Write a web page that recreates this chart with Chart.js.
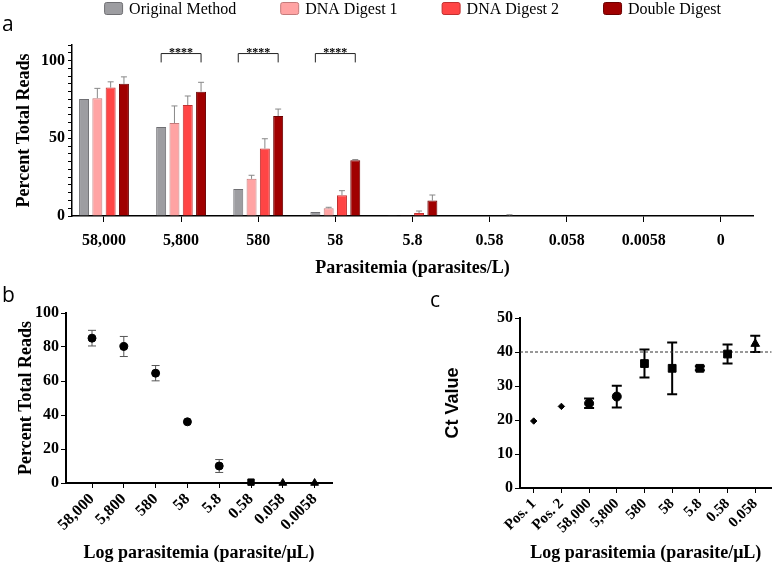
<!DOCTYPE html>
<html>
<head>
<meta charset="utf-8">
<script src="https://cdn.jsdelivr.net/npm/chart.js@4.4.1/dist/chart.umd.min.js"></script>
<style>
    body { margin: 0; background: #fff; width: 778px; height: 571px; position: relative; overflow: hidden; }
    canvas { position: absolute; }
    .panel-letter { position: absolute; font: 21px 'Open Sans', sans-serif; line-height: 21px; color: #000; }
</style>
</head>
<body>
<canvas id="readsBarChart" width="778" height="286" style="left:0;top:0"></canvas>
<canvas id="readsScatterChart" width="380" height="286" style="left:0;top:285px"></canvas>
<canvas id="ctChart" width="398" height="286" style="left:380px;top:285px"></canvas>
<div class="panel-letter" style="left:2px;top:13px">a</div>
<div class="panel-letter" style="left:2px;top:284px">b</div>
<div class="panel-letter" style="left:430px;top:289px">c</div>
<script>
// Panel a - percent total reads per method
const dilutions = ['58,000', '5,800', '580', '58', '5.8', '0.58', '0.058', '0.0058', '0'];
const originalMethod = [75.3, 57.3, 17.4, 2.5, 0.1, 0, 0, 0, 0];
const originalMethodSd = [0, 0, 0, 0, 0, 0, 0, 0, 0];
const digest1 = [75.8, 59.8, 23.9, 5.0, 0.2, 0, 0, 0, 0];
const digest1Sd = [6.3, 11.0, 2.3, 0.6, 0, 0, 0, 0, 0];
const digest2 = [82.6, 71.4, 43.4, 13.4, 1.9, 0, 0, 0, 0];
const digest2Sd = [3.7, 5.8, 6.3, 2.9, 1.3, 0, 0, 0, 0];
const doubleDigest = [85.0, 80.0, 64.3, 35.9, 9.9, 0.4, 0, 0, 0];
const doubleDigestSd = [4.5, 6.0, 4.5, 0.4, 3.6, 0.4, 0, 0, 0];
const sigGroups = [1, 2, 3];
const sigLabel = '****';

// Panel b - double digest only
const dilutionsB = ['58,000', '5,800', '580', '58', '5.8', '0.58', '0.058', '0.0058'];
const readsMean = [85.2, 80.3, 64.6, 36.0, 10.0, 0.5, 0, 0];
const readsSd = [4.6, 5.9, 4.5, 0, 3.8, 0, 0, 0];

// Panel c - qPCR Ct values
const ctSamples = ['Pos. 1', 'Pos. 2', '58,000', '5,800', '580', '58', '5.8', '0.58', '0.058'];
const ctMean = [19.7, 24.0, 24.9, 26.9, 36.6, 35.2, 35.2, 39.4, 42.4];
const ctSd = [0, 0, 1.4, 3.2, 4.1, 7.6, 0.6, 2.8, 2.4];
const ctCutoff = 40;

Chart.defaults.font.family = '"Liberation Serif", "Times New Roman", serif';
Chart.defaults.color = '#000';
Chart.defaults.animation = false;

const toPoints = arr => arr.map((v, i) => ({ x: i, y: v }));

// linear x axis that behaves like a category axis (lets us pin the ends)
function indexAxis(labels, min, max, opts) {
    return {
        type: 'linear',
        min: min,
        max: max,
        offset: false,
        afterBuildTicks: scale => { scale.ticks = labels.map((_, i) => ({ value: i })); },
        afterFit: scale => { scale.height = opts.height; },
        grid: { display: true, offset: false, drawOnChartArea: false, color: '#000', tickLength: opts.tickLength || 5 },
        border: { display: true, color: '#000', width: opts.borderWidth || 1.5 },
        ticks: {
            autoSkip: false,
            minRotation: opts.rotation || 0,
            maxRotation: opts.rotation || 0,
            padding: opts.padding || 3,
            font: { size: opts.fontSize || 16, weight: 'bold' },
            callback: v => labels[v]
        },
        title: {
            display: true,
            text: opts.title,
            font: { size: 18, weight: 'bold' },
            padding: { top: 4, bottom: 4 }
        }
    };
}

// error bars drawn from the y scale
const errorBars = {
    id: 'errorBars',
    draw(chart, opts) {
        const { ctx } = chart;
        const yScale = chart.scales.y;
        chart.data.datasets.forEach((ds, di) => {
            if (!ds.errors) return;
            const meta = chart.getDatasetMeta(di);
            ctx.save();
            ctx.strokeStyle = opts.color;
            ctx.lineWidth = opts.width;
            meta.data.forEach((el, i) => {
                const sd = ds.errors[i];
                if (!sd) return;
                const v = ds.data[i].y;
                const top = yScale.getPixelForValue(v + sd);
                const bottom = yScale.getPixelForValue(opts.upperOnly ? v : v - sd);
                ctx.beginPath();
                ctx.moveTo(el.x, bottom);
                ctx.lineTo(el.x, top);
                ctx.moveTo(el.x - opts.cap, top);
                ctx.lineTo(el.x + opts.cap, top);
                if (!opts.upperOnly) {
                    ctx.moveTo(el.x - opts.cap, bottom);
                    ctx.lineTo(el.x + opts.cap, bottom);
                }
                ctx.stroke();
            });
            ctx.restore();
        });
    },
    beforeDatasetsDraw(chart, args, opts) { if (opts.behind) this.draw(chart, opts); },
    afterDatasetsDraw(chart, args, opts) { if (!opts.behind) this.draw(chart, opts); }
};

// legend above panel a
const topLegend = {
    id: 'topLegend',
    afterDraw(chart) {
        const { ctx, chartArea } = chart;
        ctx.save();
        ctx.font = '16px "Liberation Serif"';
        const items = chart.data.datasets.map(ds => ({
            text: ds.label,
            fill: ds.backgroundColor,
            stroke: ds.borderColor,
            w: ctx.measureText(ds.label).width
        }));
        const box = 18, gap = 7, spacing = 44;
        const total = items.reduce((s, it) => s + box + gap + it.w, 0) + spacing * (items.length - 1);
        let x = (chartArea.left + chartArea.right) / 2 - total / 2;
        items.forEach(it => {
            ctx.fillStyle = it.fill;
            ctx.strokeStyle = it.stroke;
            ctx.lineWidth = 1;
            ctx.beginPath();
            ctx.roundRect(x + 0.5, 2.5, box, 12, 2);
            ctx.fill();
            ctx.stroke();
            ctx.fillStyle = '#000';
            ctx.fillText(it.text, x + box + gap, 14);
            x += box + gap + it.w + spacing;
        });
        ctx.restore();
    }
};

// significance brackets
const sigBrackets = {
    id: 'sigBrackets',
    afterDatasetsDraw(chart) {
        const { ctx, scales: { y } } = chart;
        const first = chart.getDatasetMeta(0);
        const last = chart.getDatasetMeta(chart.data.datasets.length - 1);
        const top = y.getPixelForValue(104.5);
        const leg = y.getPixelForValue(98.8);
        ctx.save();
        ctx.strokeStyle = '#222';
        ctx.lineWidth = 1;
        ctx.fillStyle = '#000';
        ctx.font = 'bold 12px "Liberation Serif"';
        ctx.textAlign = 'center';
        sigGroups.forEach(i => {
            const x1 = first.data[i].x, x2 = last.data[i].x;
            ctx.beginPath();
            ctx.moveTo(x1, leg);
            ctx.lineTo(x1, top);
            ctx.lineTo(x2, top);
            ctx.lineTo(x2, leg);
            ctx.stroke();
            ctx.fillText(sigLabel, (x1 + x2) / 2, top + 2);
        });
        ctx.restore();
    }
};

// dashed cutoff in panel c
const cutoffLine = {
    id: 'cutoffLine',
    beforeDatasetsDraw(chart) {
        const { ctx, chartArea, scales: { y } } = chart;
        const py = y.getPixelForValue(ctCutoff);
        ctx.save();
        ctx.strokeStyle = '#333';
        ctx.lineWidth = 1;
        ctx.setLineDash([3, 2]);
        ctx.beginPath();
        ctx.moveTo(chartArea.left, py);
        ctx.lineTo(chartArea.right, py);
        ctx.stroke();
        ctx.restore();
    }
};

// Panel a
const barCtx = document.getElementById('readsBarChart').getContext('2d');
new Chart(barCtx, {
    type: 'bar',
    data: {
        datasets: [
            { label: 'Original Method', data: toPoints(originalMethod), errors: originalMethodSd, backgroundColor: '#9d9da1', borderColor: '#6f6f73' },
            { label: 'DNA Digest 1', data: toPoints(digest1), errors: digest1Sd, backgroundColor: '#ffa3a3', borderColor: '#c47a7a' },
            { label: 'DNA Digest 2', data: toPoints(digest2), errors: digest2Sd, backgroundColor: '#ff4545', borderColor: '#c03030' },
            { label: 'Double Digest', data: toPoints(doubleDigest), errors: doubleDigestSd, backgroundColor: '#a00000', borderColor: '#6a0000' }
        ]
    },
    options: {
        responsive: false,
        barPercentage: 0.75,
        categoryPercentage: 0.69,
        borderWidth: 1,
        layout: { padding: { top: 45, left: 10, right: 25, bottom: 3 } },
        plugins: {
            legend: { display: false },
            tooltip: { enabled: false },
            errorBars: { color: '#888', width: 1, cap: 3, upperOnly: true }
        },
        scales: {
            x: indexAxis(dilutions, -0.415, 8.417, { height: 67, title: 'Parasitemia (parasites/L)', tickLength: 6, padding: 9 }),
            y: {
                min: 0,
                max: 110,
                afterFit: scale => { scale.width = 62; },
                grid: { display: true, drawOnChartArea: false, color: '#000', tickLength: 4 },
                border: { display: true, color: '#000', width: 1.5 },
                ticks: {
                    stepSize: 5,
                    maxTicksLimit: 30,
                    autoSkip: false,
                    padding: 3,
                    font: { size: 16, weight: 'bold' },
                    callback: v => (v % 50 === 0 ? v : '')
                },
                title: { display: true, text: 'Percent Total Reads', font: { size: 18, weight: 'bold' }, padding: { top: 4, bottom: 4 } }
            }
        }
    },
    plugins: [errorBars, sigBrackets, topLegend]
});

// Panel b
const scatterCtx = document.getElementById('readsScatterChart').getContext('2d');
new Chart(scatterCtx, {
    type: 'scatter',
    data: {
        datasets: [{
            label: 'Double Digest',
            data: toPoints(readsMean),
            errors: readsSd,
            clip: false,
            backgroundColor: '#000',
            borderColor: '#000',
            pointStyle: c => (c.dataIndex < 5 ? 'circle' : c.dataIndex === 5 ? 'rect' : 'triangle'),
            pointRadius: c => (c.dataIndex < 5 ? 4 : 4.5)
        }]
    },
    options: {
        responsive: false,
        layout: { padding: { top: 28, left: 12, right: 48, bottom: 3 } },
        plugins: {
            legend: { display: false },
            tooltip: { enabled: false },
            errorBars: { color: '#555', width: 1, cap: 4, behind: true }
        },
        scales: {
            x: indexAxis(dilutionsB, -0.818, 7.547, { height: 85, title: 'Log parasitemia (parasite/\u03bcL)', rotation: 45, borderWidth: 2, padding: 2 }),
            y: {
                min: 0,
                max: 100,
                afterFit: scale => { scale.width = 54; },
                grid: { display: true, drawOnChartArea: false, color: '#000', tickLength: 5 },
                border: { display: true, color: '#000', width: 2 },
                ticks: { stepSize: 20, padding: 2, font: { size: 16, weight: 'bold' } },
                title: { display: true, text: 'Percent Total Reads', font: { size: 18, weight: 'bold' }, padding: { top: 4, bottom: 4 } }
            }
        }
    },
    plugins: [errorBars]
});

// Panel c
const ctCtx = document.getElementById('ctChart').getContext('2d');
new Chart(ctCtx, {
    type: 'scatter',
    data: {
        datasets: [{
            label: 'Ct',
            data: toPoints(ctMean),
            errors: ctSd,
            clip: false,
            backgroundColor: '#000',
            borderColor: '#000',
            pointStyle: c => (c.dataIndex < 2 ? 'rectRot' : c.dataIndex < 4 ? 'circle' : c.dataIndex < 8 ? 'rect' : 'triangle'),
            pointRadius: c => (c.dataIndex < 2 ? 3.2 : c.dataIndex < 4 ? 4.5 : c.dataIndex < 8 ? 5.5 : 5)
        }]
    },
    options: {
        responsive: false,
        layout: { padding: { top: 33, left: 58, right: 1, bottom: 3 } },
        plugins: {
            legend: { display: false },
            tooltip: { enabled: false },
            errorBars: { color: '#000', width: 2, cap: 5, behind: true }
        },
        scales: {
            x: indexAxis(ctSamples, -0.495, 8.587, { height: 80, title: 'Log parasitemia (parasite/\u03bcL)', rotation: 45, borderWidth: 2, padding: 2, fontSize: 15 }),
            y: {
                min: 0,
                max: 50,
                afterFit: scale => { scale.width = 82; },
                grid: { display: true, drawOnChartArea: false, color: '#000', tickLength: 5 },
                border: { display: true, color: '#000', width: 2 },
                ticks: { stepSize: 10, padding: 2, font: { size: 16, weight: 'bold' } },
                title: { display: true, text: 'Ct Value', font: { family: '"Liberation Sans", Arial, sans-serif', size: 18, weight: 'bold' }, padding: { top: 4, bottom: 4 } }
            }
        }
    },
    plugins: [errorBars, cutoffLine]
});
</script>
</body>
</html>
